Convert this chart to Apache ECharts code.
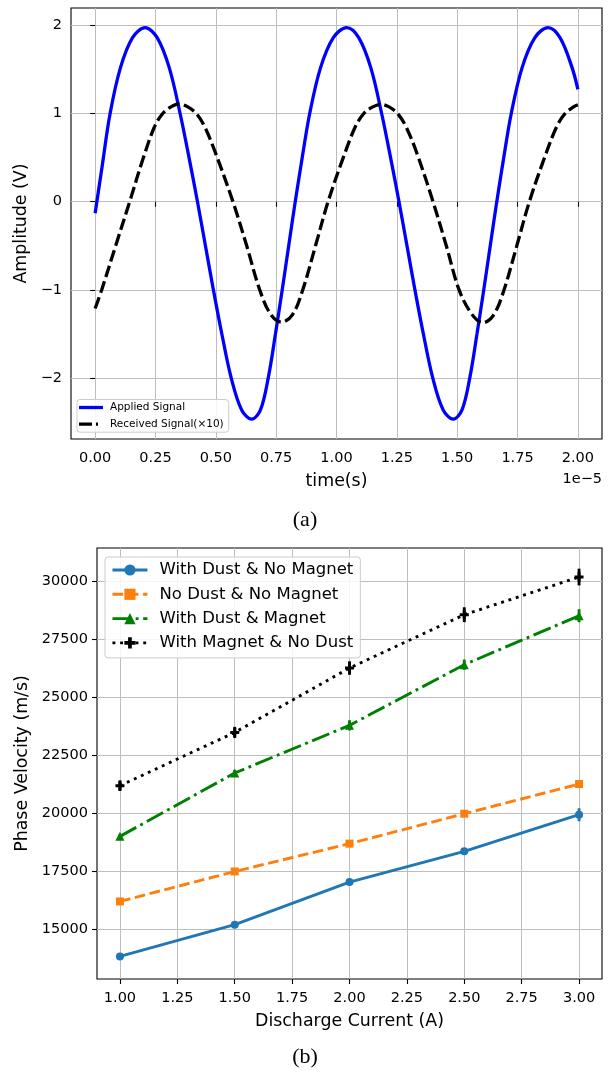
<!DOCTYPE html>
<html><head><meta charset="utf-8">
<script src="https://cdn.jsdelivr.net/npm/echarts@6/dist/echarts.min.js"></script>
<style>html,body{margin:0;padding:0;background:#fff}#c{width:610px;height:1074px}</style>
</head><body><div id="c"></div>
<script>
// ---- Panel (a): time in units of 1e-5 s, amplitude in V ----
const appliedTime = [0,0.03,0.062,0.105,0.155,0.207,0.257,0.307,0.352,0.389,0.424,0.457,0.49,0.525,0.564,0.607,0.649,0.685,0.717,0.747,0.775,0.802,0.829,0.858,0.889,0.934,0.987,1.042,1.092,1.142,1.187,1.224,1.259,1.292,1.325,1.36,1.399,1.442,1.484,1.52,1.552,1.582,1.61,1.637,1.664,1.693,1.724,1.769,1.822,1.876,1.926,1.976,2.0];
const appliedVolt = [-0.13,0.42,1.0,1.52,1.86,1.973,1.86,1.52,1.0,0.5,0.0,-0.5,-1.0,-1.5,-2.0,-2.36,-2.465,-2.36,-2.0,-1.5,-1.0,-0.5,0.0,0.5,1.0,1.52,1.86,1.973,1.86,1.52,1.0,0.5,0.0,-0.5,-1.0,-1.5,-2.0,-2.36,-2.465,-2.36,-2.0,-1.5,-1.0,-0.5,0.0,0.5,1.0,1.52,1.86,1.973,1.86,1.52,1.274];
const receivedTime = [0,0.027,0.085,0.143,0.2,0.246,0.28,0.314,0.349,0.384,0.419,0.454,0.499,0.571,0.628,0.682,0.728,0.773,0.818,0.86,0.913,0.965,1.028,1.078,1.113,1.148,1.183,1.218,1.253,1.288,1.333,1.4,1.455,1.508,1.562,1.607,1.652,1.694,1.747,1.799,1.862,1.912,1.947,1.982,2.0];
const receivedVolt = [-1.21,-1.0,-0.5,0.0,0.5,0.85,1.0,1.075,1.108,1.075,1.0,0.85,0.55,0.0,-0.5,-1.0,-1.28,-1.365,-1.28,-1.0,-0.5,0.0,0.5,0.85,1.0,1.072,1.105,1.075,1.0,0.85,0.55,0.0,-0.5,-1.0,-1.28,-1.372,-1.28,-1.0,-0.5,0.0,0.5,0.85,1.0,1.075,1.1];
const timeTicks = [0,0.25,0.5,0.75,1.0,1.25,1.5,1.75,2.0];
const ampTicks = [-2,-1,0,1,2];

// ---- Panel (b): discharge current (A) vs phase velocity (m/s) ----
const current = [1.0,1.5,2.0,2.5,3.0];
const dustNoMagnet = [13850,15215,17050,18370,19945];
const dustNoMagnetErr = [60,80,100,140,280];
const noDustNoMagnet = [16215,17505,18700,19990,21265];
const noDustNoMagnetErr = [60,70,90,110,150];
const dustMagnet = [19015,21740,23790,26400,28505];
const dustMagnetErr = [90,130,220,220,280];
const magnetNoDust = [21195,23485,26255,28550,30170];
const magnetNoDustErr = [230,240,290,320,360];
const currentTicks = [1.0,1.25,1.5,1.75,2.0,2.25,2.5,2.75,3.0];
const velocityTicks = [15000,17500,20000,22500,25000,27500,30000];

const FONT = 'DejaVu Sans';
const minus = v => String(v).replace('-', '\u2212');

function pairs(xs, ys){ return xs.map((x,i)=>[x, ys[i]]); }

function axisCommon(ticks, fmt, gridIdx, margin){
  return {
    gridIndex: gridIdx,
    type: 'value',
    axisLine: {show: false},
    axisTick: {show: true, customValues: ticks, length: 5, inside: false, lineStyle: {color: '#000', width: 1.1}},
    axisLabel: {customValues: ticks, formatter: fmt, color: '#000', fontFamily: FONT, fontSize: 14.5, margin: margin},
    splitLine: {show: true, lineStyle: {color: '#bdbdbd', width: 1}},
    nameTextStyle: {color: '#000', fontFamily: FONT, fontSize: 17.4},
    nameLocation: 'middle'
  };
}

function errSeries(xs, ys, es, color, gi){
  return {
    type: 'custom', xAxisIndex: gi, yAxisIndex: gi, z: 4, silent: true,
    encode: {x: 0, y: [1,2]},
    data: xs.map((x,i)=>[x, ys[i]-es[i], ys[i]+es[i]]),
    renderItem: (params, api) => {
      const a = api.coord([api.value(0), api.value(1)]);
      const b = api.coord([api.value(0), api.value(2)]);
      return {type: 'line', shape: {x1: a[0], y1: a[1], x2: b[0], y2: b[1]},
              style: {stroke: color, lineWidth: 2.9}};
    }
  };
}

function lineSeries(name, ys, color, dash, symbol, size){
  return {
    type: 'line', name, xAxisIndex: 1, yAxisIndex: 1, z: 3,
    data: pairs(current, ys),
    symbol, symbolSize: size, showSymbol: true, showAllSymbol: true,
    itemStyle: {color, borderWidth: 0},
    lineStyle: {color, width: 2.9, type: dash, cap: 'butt'},
    emphasis: {disabled: true}
  };
}

const plusPath = 'path://M-1,-3L1,-3L1,-1L3,-1L3,1L1,1L1,3L-1,3L-1,1L-3,1L-3,-1L-1,-1Z';
// legend handles for panel (a): a solid bar and a dash + short dash (bounding box padded with empty moves)
const solidHandle = 'path://M0,0L0,0M0,2.35H24V5.65H0ZM24,8L24,8';
const dashHandle = 'path://M0,0L0,0M0,2.35H13V5.65H0ZM17,2.35H19V5.65H17ZM24,8L24,8';

const chart = echarts.init(document.getElementById('c'), null, {renderer: 'canvas'});
const option = {
  animation: false,
  backgroundColor: '#fff',
  textStyle: {fontFamily: FONT},
  grid: [
    {left: 71, top: 8, width: 531, height: 431, show: true, borderColor: '#000', borderWidth: 1.1, backgroundColor: 'transparent', containLabel: false},
    {left: 97, top: 548, width: 505, height: 431, show: true, borderColor: '#000', borderWidth: 1.1, backgroundColor: 'transparent', containLabel: false}
  ],
  xAxis: [
    Object.assign(axisCommon(timeTicks, v => v.toFixed(2), 0, 12), {min: -0.1, max: 2.1, name: 'time(s)', nameGap: 34}),
    Object.assign(axisCommon(currentTicks, v => v.toFixed(2), 1, 12), {min: 0.9, max: 3.1, name: 'Discharge Current (A)', nameGap: 34})
  ],
  yAxis: [
    Object.assign(axisCommon(ampTicks, v => minus(v), 0, 9), {min: -2.69, max: 2.196, name: 'Amplitude (V)', nameGap: 35}),
    Object.assign(axisCommon(velocityTicks, v => String(v), 1, 9), {min: 12879, max: 31419, name: 'Phase Velocity (m/s)', nameGap: 61})
  ],
  legend: [
    {
      data: [{name: 'Applied Signal', icon: solidHandle}, {name: 'Received Signal(\u00d710)', icon: dashHandle}],
      orient: 'vertical', left: 77, top: 399.5,
      itemWidth: 24, itemHeight: 8, itemGap: 4.7,
      padding: [2, 5, 2, 2],
      backgroundColor: 'rgba(255,255,255,0.85)', borderColor: '#cccccc', borderWidth: 1, borderRadius: 3,
      textStyle: {fontFamily: FONT, fontSize: 10.5, color: '#000', lineHeight: 12, padding: [0,0,0,2]},
      selectedMode: false
    },
    {
      data: ['With Dust & No Magnet', 'No Dust & No Magnet', 'With Dust & Magnet', 'With Magnet & No Dust'],
      orient: 'vertical', left: 105, top: 557,
      itemWidth: 35, itemHeight: 14, itemGap: 6.3,
      padding: [4, 7, 6, 6],
      lineStyle: {width: 2.9},
      backgroundColor: 'rgba(255,255,255,0.85)', borderColor: '#cccccc', borderWidth: 1, borderRadius: 3,
      textStyle: {fontFamily: FONT, fontSize: 16.5, color: '#000', lineHeight: 18, padding: [0,0,0,7]},
      selectedMode: false
    }
  ],
  series: [
    {
      type: 'line', name: 'Applied Signal', xAxisIndex: 0, yAxisIndex: 0, z: 3,
      data: pairs(appliedTime, appliedVolt), showSymbol: false, symbol: 'none', smooth: 0.35,
      itemStyle: {color: '#0000ff'},
      lineStyle: {color: '#0000ff', width: 3.3}, emphasis: {disabled: true}
    },
    {
      type: 'line', name: 'Received Signal(\u00d710)', xAxisIndex: 0, yAxisIndex: 0, z: 4,
      data: pairs(receivedTime, receivedVolt), showSymbol: false, symbol: 'none', smooth: 0.35,
      itemStyle: {color: '#000000'},
      lineStyle: {color: '#000000', width: 3.3, type: [12, 4.5], cap: 'butt'}, emphasis: {disabled: true}
    },
    lineSeries('With Dust & No Magnet', dustNoMagnet, '#1f77b4', 'solid', 'circle', 8),
    errSeries(current, dustNoMagnet, dustNoMagnetErr, '#1f77b4', 1),
    lineSeries('No Dust & No Magnet', noDustNoMagnet, '#ff7f0e', [10.7, 4.6], 'rect', 8),
    errSeries(current, noDustNoMagnet, noDustNoMagnetErr, '#ff7f0e', 1),
    lineSeries('With Dust & Magnet', dustMagnet, '#008000', [18.6, 4.6, 2.9, 4.6], 'triangle', 9),
    errSeries(current, dustMagnet, dustMagnetErr, '#008000', 1),
    lineSeries('With Magnet & No Dust', magnetNoDust, '#000000', [2.9, 4.8], plusPath, 9),
    errSeries(current, magnetNoDust, magnetNoDustErr, '#000000', 1)
  ],
  graphic: [
    {type: 'text', right: 8, top: 472, style: {text: '1e\u22125', font: '14.5px "DejaVu Sans"', fill: '#000'}},
    {type: 'text', left: 'center', top: 509, style: {text: '(a)', font: '22px "Liberation Serif"', fill: '#000'}},
    {type: 'text', left: 'center', top: 1046, style: {text: '(b)', font: '22px "Liberation Serif"', fill: '#000'}}
  ]
};
chart.setOption(option);
</script>
</body></html>
